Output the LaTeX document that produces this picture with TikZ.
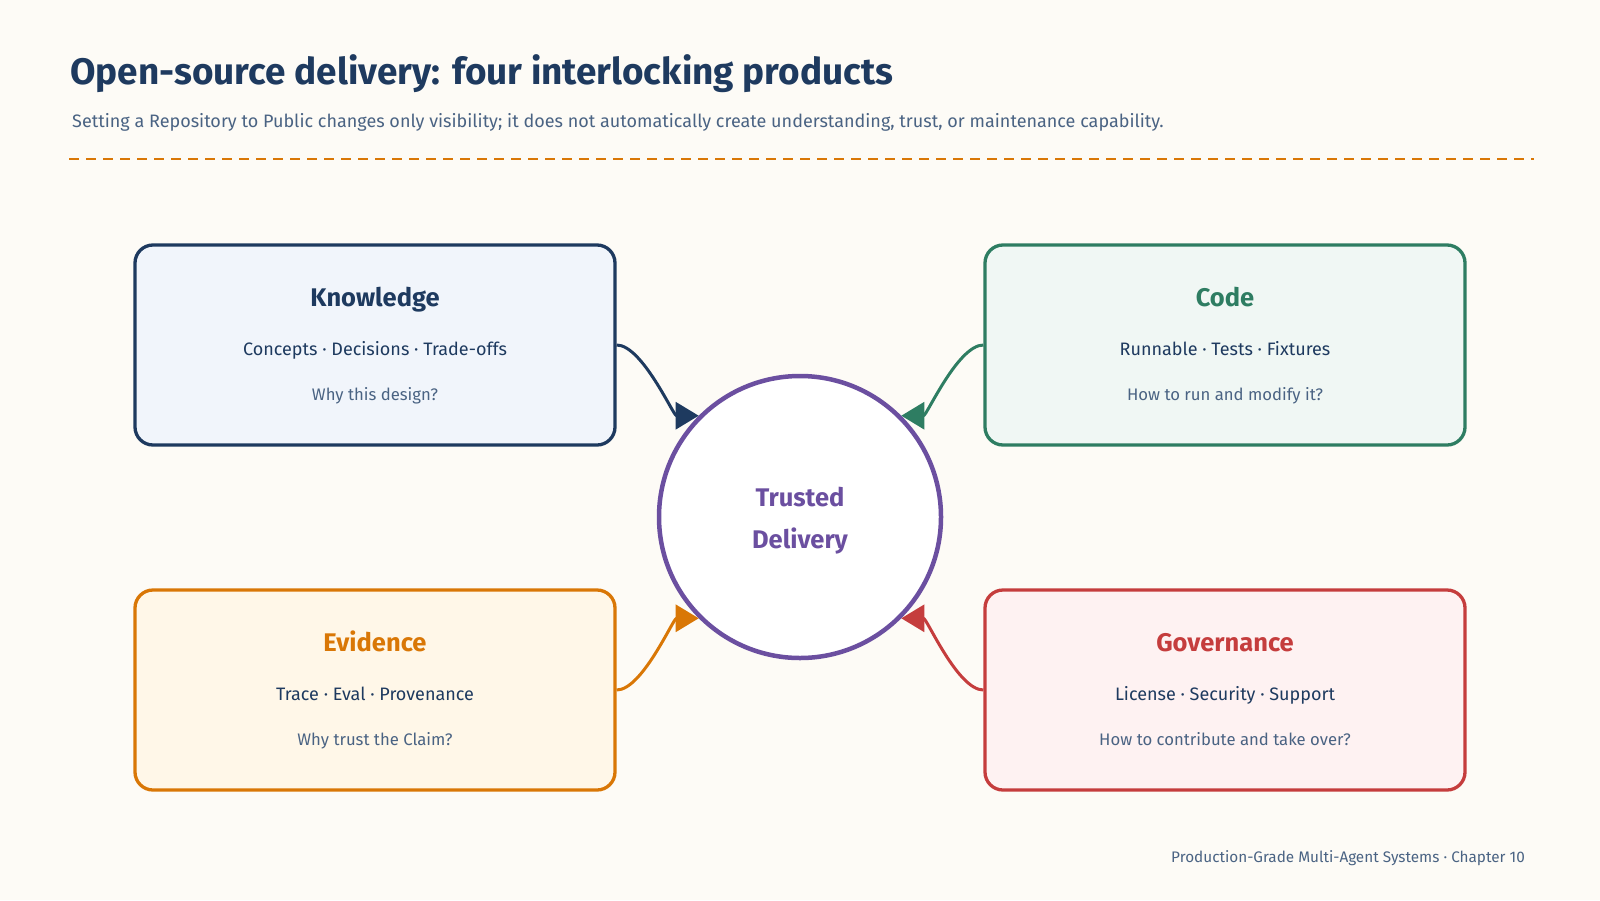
\documentclass[tikz,border=0pt]{standalone}
\usepackage{fontspec}
\setmainfont{Fira Sans}
\usetikzlibrary{arrows.meta}

\definecolor{paper}{HTML}{FDFBF6}
\definecolor{navy}{HTML}{1E3A5F}
\definecolor{slate}{HTML}{4A6383}
\definecolor{amber}{HTML}{D97706}
\definecolor{amberfill}{HTML}{FFF7E8}
\definecolor{navyfill}{HTML}{F1F5FB}
\definecolor{teal}{HTML}{2E7D62}
\definecolor{tealfill}{HTML}{F0F7F4}
\definecolor{brick}{HTML}{C53D3D}
\definecolor{brickfill}{HTML}{FEF2F2}
\definecolor{plum}{HTML}{6B4FA0}

\tikzset{
  product/.style={draw=#1, line width=3.3pt, rounded corners=18pt,
    minimum width=480pt, minimum height=200pt, inner sep=0pt},
  prodtitle/.style={font=\fontsize{25.5}{30}\selectfont\bfseries, anchor=base},
  prodparts/.style={font=\fontsize{18}{22}\selectfont\mdseries, text=navy, anchor=base},
  prodask/.style={font=\fontsize{16.7}{20}\selectfont, text=slate, anchor=base},
  hubtext/.style={anchor=base, text=plum, font=\fontsize{25.5}{30}\selectfont\bfseries},
  feed/.style={line width=3pt, draw=#1, looseness=0.6,
    -{Triangle[length=23pt,width=27pt,fill=#1]}},
}

\begin{document}
\begin{tikzpicture}[x=1pt,y=-1pt]
  \useasboundingbox (0,0) rectangle (1600,900);
  \fill[paper] (0,0) rectangle (1600,900);

  % heading
  \node[anchor=base west, inner sep=0pt, text=navy,
        font=\fontsize{36.9}{42}\selectfont\bfseries] (title) at (70,84)
        {Open-source delivery: four interlocking products};
  \node[anchor=base west, inner sep=0pt, text=slate,
        font=\fontsize{18}{22}\selectfont] (subtitle) at (72,127)
        {Setting a Repository to Public changes only visibility; it does not automatically create understanding, trust, or maintenance capability.};
  \coordinate (ruleL) at (69,159);
  \coordinate (ruleR) at (1534,159);
  \draw[amber, line width=2.5pt, dash pattern=on 10pt off 7pt] (ruleL) -- (ruleR);

  % the four products
  \node[product=navy, fill=navyfill] (know) at (375,345) {};
  \node[product=teal, fill=tealfill] (code) at (1225,345) {};
  \node[product=amber, fill=amberfill] (evid) at (375,690) {};
  \node[product=brick, fill=brickfill] (gov) at (1225,690) {};

  \node[prodtitle, text=navy] (knowT) at (375,306) {Knowledge};
  \node[prodparts] (knowP) at (375,355) {Concepts · Decisions · Trade-offs};
  \node[prodask] (knowQ) at (375,400) {Why this design?};

  \node[prodtitle, text=teal] (codeT) at (1225,306) {Code};
  \node[prodparts] (codeP) at (1225,355) {Runnable · Tests · Fixtures};
  \node[prodask] (codeQ) at (1225,400) {How to run and modify it?};

  \node[prodtitle, text=amber] (evidT) at (375,651) {Evidence};
  \node[prodparts] (evidP) at (375,700) {Trace · Eval · Provenance};
  \node[prodask] (evidQ) at (375,745) {Why trust the Claim?};

  \node[prodtitle, text=brick] (govT) at (1225,651) {Governance};
  \node[prodparts] (govP) at (1225,700) {License · Security · Support};
  \node[prodask] (govQ) at (1225,745) {How to contribute and take over?};

  % hub
  \node[circle, draw=plum, line width=4.5pt, fill=white, minimum size=282pt,
        inner sep=0pt] (hub) at (800,517) {};
  \node[hubtext] (hubA) at (800,506) {Trusted};
  \node[hubtext] (hubB) at (800,548) {Delivery};

  % feeds into the hub
  \draw[feed=navy]  (know.east) to[out=0,in=180] (hub.135);
  \draw[feed=teal]  (code.west) to[out=180,in=0] (hub.45);
  \draw[feed=amber] (evid.east) to[out=0,in=180] (hub.225);
  \draw[feed=brick] (gov.west)  to[out=180,in=0] (hub.-45);

  % footer
  \node[anchor=base east, inner sep=0pt, text=slate,
        font=\fontsize{15.3}{18}\selectfont] (footer) at (1525,862)
        {Production-Grade Multi-Agent Systems · Chapter 10};
\end{tikzpicture}
\end{document}
